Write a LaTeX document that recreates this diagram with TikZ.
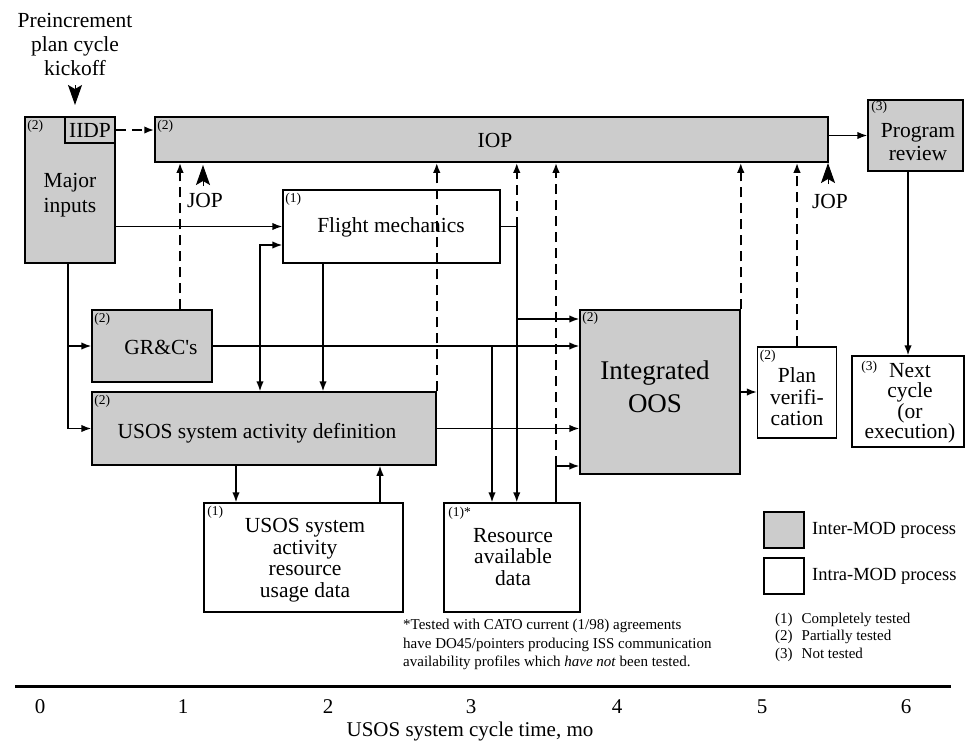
\documentclass[tikz,border=0pt]{standalone}
\usepackage{fontspec}
\setmainfont{Liberation Serif}
\newfontfamily\rawserif{Liberation Serif}
\usetikzlibrary{arrows.meta,calc}
\definecolor{boxgray}{HTML}{CCCCCC}
\begin{document}
\begin{tikzpicture}[x=1pt,y=-1pt,
  gbox/.style={draw, fill=boxgray, line width=1.5pt, inner sep=0pt},
  wbox/.style={draw, fill=white, line width=1.5pt, inner sep=0pt},
  txt/.style={font=\fontsize{21.5}{21.5}\selectfont, align=center, inner sep=0pt},
  tag/.style={font=\fontsize{13.5}{14}\selectfont, anchor=north west, inner sep=0pt},
  conn/.style={line width=1.5pt},
  arr/.style={line width=1.5pt, -{Latex[length=10pt,width=7.5pt]}},
  arrb/.style={line width=1.5pt, {Latex[length=10pt,width=7.5pt]}-{Latex[length=10pt,width=7.5pt]}},
  darr/.style={line width=2pt, dash pattern=on 10pt off 6pt, -{Latex[length=10pt,width=7.5pt]}},
  bigtip/.style={line width=1pt, -{Stealth[length=20pt,width=14pt,inset=4pt]}},
  num/.style={font=\fontsize{21}{21}\selectfont, inner sep=0pt},
]
\path[use as bounding box] (0,0) rectangle (966,745);

% ---------- boxes ----------
\node[gbox, minimum width=90, minimum height=146] (major) at (70,190) {};
\node[gbox, minimum width=50, minimum height=26] (iidp) at (90,130) {};
\node[gbox, minimum width=673, minimum height=45] (iop) at (491.5,139.5) {};
\node[gbox, minimum width=95, minimum height=71] (prog) at (915.5,135.5) {};
\node[wbox, minimum width=217, minimum height=73] (fm) at (391.5,226.5) {};
\node[gbox, minimum width=120, minimum height=72] (grc) at (152,346) {};
\node[gbox, minimum width=344, minimum height=73] (usosdef) at (264,428.5) {};
\node[wbox, minimum width=199, minimum height=109] (usosdata) at (303.5,557.5) {};
\node[wbox, minimum width=136, minimum height=109] (res) at (512,557.5) {};
\node[gbox, minimum width=160, minimum height=164] (oos) at (660,392) {};
\node[wbox, minimum width=79, minimum height=91] (plan) at (797,392.5) {};
\node[wbox, minimum width=112, minimum height=91] (next) at (908,401.5) {};
\node[gbox, minimum width=40, minimum height=36] (leg1) at (784,530) {};
\node[wbox, minimum width=40, minimum height=36] (leg2) at (784,576) {};

% ---------- texts ----------
\node[txt, font=\fontsize{21.5}{24}\selectfont] (kick) at (75,44) {Preincrement\\plan cycle\\kickoff};
\node[txt] (iidpt) at (iidp) {IIDP};
\node[txt, font=\fontsize{21.5}{25}\selectfont] (majort) at (70,195) {Major\\inputs};
\node[txt] (iopt) at (495,140) {IOP};
\node[txt, font=\fontsize{21.5}{23}\selectfont] (progt) at (918,142) {Program\\review};
\node[txt] (fmt) at (391,227) {Flight mechanics};
\node[txt] (grct) at (161,347) {GR\&C{\rawserif '}s};
\node[txt] (usosdeft) at (257,433) {USOS system activity definition};
\node[txt] (usosdatat) at (305,560) {USOS system\\activity\\resource\\usage data};
\node[txt] (rest) at (513,557) {Resource\\available\\data};
\node[txt, font=\fontsize{27}{33}\selectfont] (oost) at (655,387) {Integrated\\OOS};
\node[txt] (plant) at (797,397) {Plan\\verifi-\\cation};
\node[txt, font=\fontsize{21.5}{20.5}\selectfont] (nextt) at (910,403) {Next\\cycle\\(or\\execution)};
\node[txt] (jop1) at (205,200) {JOP};
\node[txt] (jop2) at (830,201) {JOP};

% tags
\node[tag] (tg1) at ([xshift=3,yshift=-4]major.north west) {(2)};
\node[tag] (tg2) at ([xshift=3,yshift=-4]iop.north west) {(2)};
\node[tag] (tg3) at ([xshift=4,yshift=-2]prog.north west) {(3)};
\node[tag] (tg4) at ([xshift=3,yshift=-4]fm.north west) {(1)};
\node[tag] (tg5) at ([xshift=3,yshift=-4]grc.north west) {(2)};
\node[tag] (tg6) at ([xshift=3,yshift=-4]usosdef.north west) {(2)};
\node[tag] (tg7) at ([xshift=4,yshift=-4]usosdata.north west) {(1)};
\node[tag] (tg8) at ([xshift=5,yshift=-5]res.north west) {(1)*};
\node[tag] (tg9) at ([xshift=3,yshift=-3]oos.north west) {(2)};
\node[tag] (tg10) at ([xshift=3,yshift=-4]plan.north west) {(2)};
\node[tag] (tg11) at ([xshift=10,yshift=-6]next.north west) {(3)};

% legend
\node[font=\fontsize{18.5}{18.5}\selectfont, anchor=west, inner sep=0pt] (leg1t) at (812,530) {Inter-MOD process};
\node[font=\fontsize{18.5}{18.5}\selectfont, anchor=west, inner sep=0pt] (leg2t) at (812,576) {Intra-MOD process};
\node[font=\fontsize{15}{17.5}\selectfont, anchor=north west, inner sep=0pt] (tested) at (775,611)
  {\begin{tabular}{@{}l@{\hspace{9pt}}l@{}}(1)&Completely tested\\(2)&Partially tested\\(3)&Not tested\end{tabular}};

% footnote
\node[font=\fontsize{15}{18.5}\selectfont, anchor=north west, align=left, inner sep=0pt] (fn) at (403,619)
  {*Tested with CATO current (1/98) agreements\\have DO45/pointers producing ISS communication\\availability profiles which \textit{have not} been tested.};

% ---------- coordinates ----------
\coordinate (fmr) at ([xshift=16]fm.east);
\coordinate (oosA) at ([yshift=73]oos.west);
\coordinate (oosD) at ([yshift=-74]oos.west);
\coordinate (b1) at ([xshift=-20]res.north);
\coordinate (b2) at ([xshift=44]res.north);
\coordinate (mj) at ([xshift=-2]major.south);
\coordinate (c1) at ([xshift=-67.5]usosdata.north);
\coordinate (c2) at ([xshift=76.5]usosdata.north);
\coordinate (g1) at ([xshift=28]grc.north);
\coordinate (f1) at ([xshift=-4]usosdef.north);
\coordinate (f2) at ([xshift=-68.5]fm.south);
\coordinate (fmin2) at ([yshift=-18.5]fm.west);
\coordinate (k1) at (75,85);
\coordinate (k2) at (75,105);
\coordinate (ja1) at (203,186);
\coordinate (ja2) at (203,165);
\coordinate (jb1) at (828,184);
\coordinate (jb2) at (828,163);

% ---------- connectors ----------
\draw[bigtip] (k1) -- (k2);
\draw[bigtip] (ja1) -- (ja2);
\draw[bigtip] (jb1) -- (jb2);

\draw[darr] (iidp.east) -- (iidp.east -| iop.west);
\draw[arr] (iop.east |- prog.west) -- (prog.west);
\draw[arr] (next.north |- prog.south) -- (next.north);

\draw[arr] (major.east |- fm.west) -- (fm.west);
\draw[conn] (mj) -- (mj |- usosdef.west);
\draw[arr] (mj |- usosdef.west) -- (usosdef.west);
\draw[arr] (mj |- grc.west) -- (grc.west);

\draw[arrb] (f1) |- (fmin2);
\draw[arr] (f2) -- (f2 |- usosdef.north);

\draw[darr] (usosdef.north east) -- (usosdef.north east |- iop.south);
\draw[darr] (g1) -- (g1 |- iop.south);

\draw[conn] (fm.east) -- (fmr);
\draw[darr] (fmr) -- (fmr |- iop.south);
\draw[arr] (fmr) -- (fmr |- res.north);
\draw[arr] (fmr |- oosA) -- (oosA);

\draw[arr] (grc.east) -- (grc.east -| oos.west);
\draw[arr] (b1 |- grc.east) -- (b1);

\draw[arr] (usosdef.east) -- (usosdef.east -| oos.west);

\draw[arr] (b2) |- (oosD);
\draw[darr] (b2 |- oosD) -- (b2 |- iop.south);

\draw[darr] (oos.north east) -- (oos.north east |- iop.south);
\draw[darr] (plan.north) -- (plan.north |- iop.south);
\draw[arr] (oos.east) -- (oos.east -| plan.west);

\draw[arr] (c1 |- usosdef.south) -- (c1);
\draw[arr] (c2) -- (c2 |- usosdef.south);

% ---------- time axis ----------
\coordinate (axl) at (15,686);
\coordinate (axr) at (951,686);
\draw[line width=3pt] (axl) -- (axr);
\node[num] (n0) at (40,707) {0};
\node[num] (n1) at (183,707) {1};
\node[num] (n2) at (328,707) {2};
\node[num] (n3) at (471,707) {3};
\node[num] (n4) at (617,707) {4};
\node[num] (n5) at (762,707) {5};
\node[num] (n6) at (906,707) {6};
\node[num] (axt) at (470,731) {USOS system cycle time, mo};
\end{tikzpicture}
\end{document}
